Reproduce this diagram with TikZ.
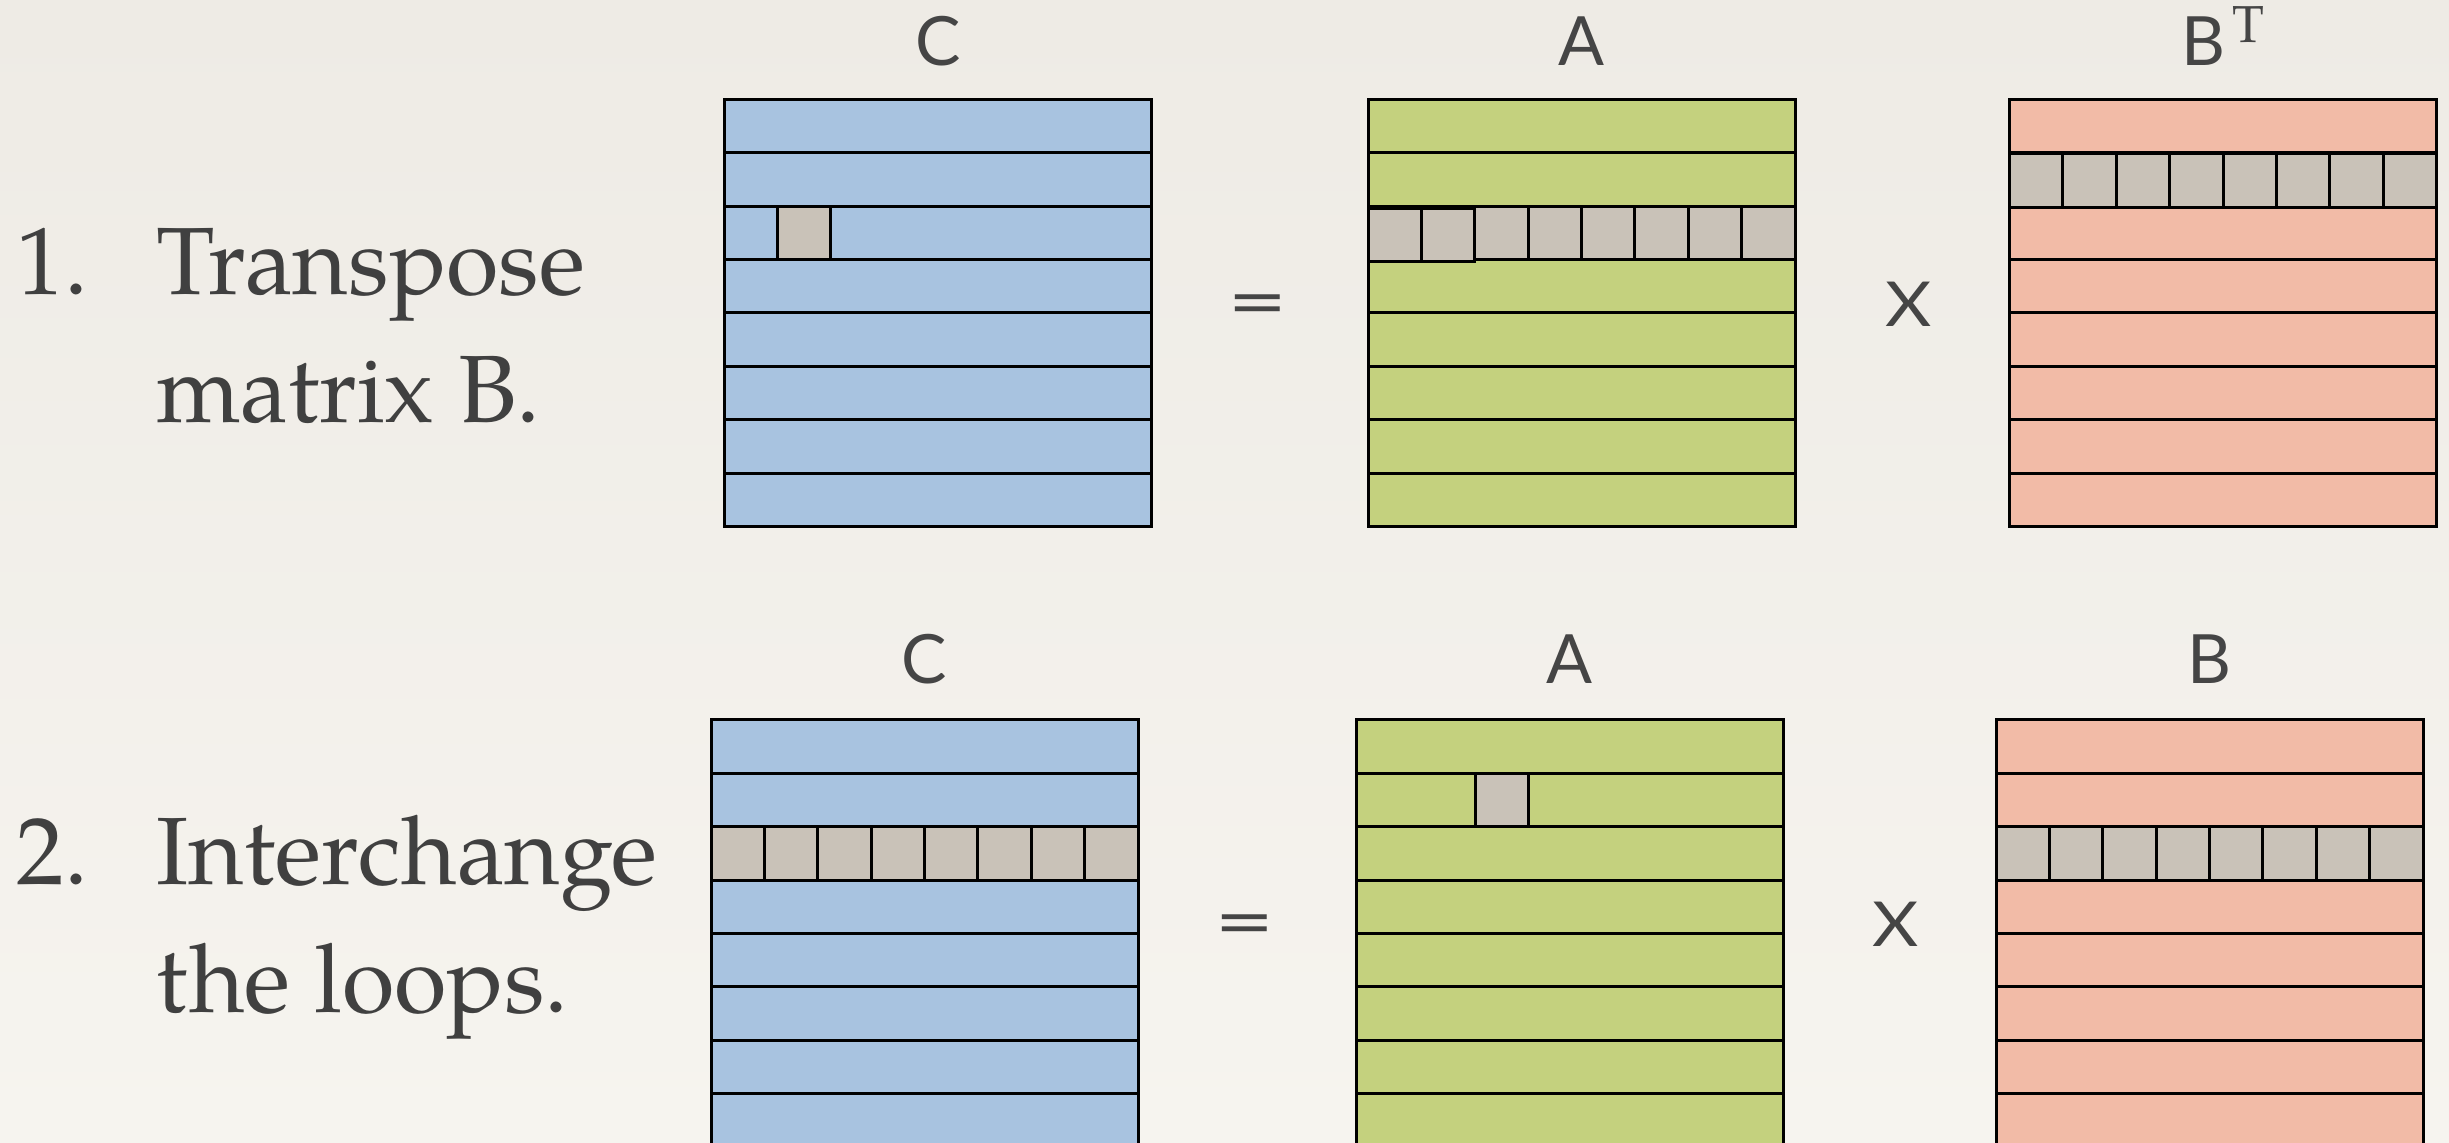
\documentclass[tikz,border=0pt]{standalone}
\usepackage{fontspec}
\newfontfamily\palfont{texgyrepagella}[Extension=.otf,UprightFont=*-regular]
\newfontfamily\lblfont{Lato}
\usetikzlibrary{calc}
\definecolor{bgtop}{HTML}{EEEBE5}
\definecolor{bgmid}{HTML}{E8E5E0}
\definecolor{bgbot}{HTML}{F6F4EF}
\definecolor{cblue}{HTML}{A8C3E0}
\definecolor{cgreen}{HTML}{C4D17E}
\definecolor{cpink}{HTML}{F2BBA7}
\definecolor{cellgray}{HTML}{C9C2B8}
\definecolor{txtgray}{HTML}{404040}
\definecolor{labelgray}{HTML}{454545}
\tikzset{
  matbox/.style={draw=black, line width=1.5pt, inner sep=0pt, outer sep=0pt,
    minimum width=213.5pt, minimum height=213.5pt, anchor=north west},
  rowline/.style={draw=black, line width=1.5pt},
  cellbox/.style={draw=black, line width=1.5pt, fill=cellgray},
  mlabel/.style={font=\lblfont\fontsize{34}{40}\selectfont, text=labelgray, inner sep=0pt, anchor=base},
  optxt/.style={font=\lblfont\fontsize{36}{40}\selectfont, text=labelgray, inner sep=0pt, xscale=1.45},
  multxt/.style={font=\lblfont\fontsize{31}{36}\selectfont, text=labelgray, inner sep=0pt, xscale=1.15},
  steptxt/.style={font=\palfont\fontsize{47.8}{56}\selectfont, text=txtgray, inner sep=0pt, anchor=base west},
}
\newcommand\matrixbox[4]{%
  \node[matbox, fill=#4] (#1) at (#2,#3) {};
  \foreach \k in {1,...,7}{%
    \draw[rowline] ($(#1.north west)!\k/8!(#1.south west)$) -- ($(#1.north east)!\k/8!(#1.south east)$);}%
}
\newcommand\cellat[4]{% name, col, row, vertical shift (px)
  \draw[cellbox] ($(#1.north west)+(#2*53.375,#3*53.375+#4)$) rectangle ++(53.375,53.375);}
\begin{document}
\begin{tikzpicture}[x=0.5pt,y=-0.5pt]
\useasboundingbox (0,0) rectangle (2449,1143);
\clip (0,0) rectangle (2449,1143);
\shade[top color=bgtop, middle color=bgmid, bottom color=bgbot] (0,0) rectangle (2449,1143);

% ---------- Row 1 ----------
\node[steptxt] (n1) at (16,295) {1.};
\node[steptxt] (t1a) at (156,295) {Transpose};
\node[steptxt] (t1b) at (156,423) {matrix B.};

\matrixbox{C1}{724}{99.5}{cblue}
\cellat{C1}{1}{2}{0}
\node[mlabel] (lC1) at (938,66) {C};

\node[optxt] (eq1) at (1258,311) {=};

\matrixbox{A1}{1368}{99.5}{cgreen}
\foreach \c in {2,...,7}{\cellat{A1}{\c}{2}{0}}
\cellat{A1}{0}{2}{2}
\cellat{A1}{1}{2}{2}
\node[mlabel] (lA1) at (1582,66) {A};

\node[multxt] (x1) at (1909,304) {X};

\matrixbox{B1}{2009.5}{99.5}{cpink}
\foreach \c in {0,...,7}{\cellat{B1}{\c}{1}{1}}
\node[mlabel] (lB1) at (2223,66) {B\hspace{3.5pt}\raisebox{11.5pt}{\palfont\fontsize{26}{30}\selectfont T}};

% ---------- Row 2 ----------
\node[steptxt] (n2) at (16,885) {2.};
\node[steptxt] (t2a) at (156,885) {Interchange};
\node[steptxt] (t2b) at (156,1013) {the loops.};

\matrixbox{C2}{711}{720}{cblue}
\foreach \c in {0,...,7}{\cellat{C2}{\c}{2}{0}}
\node[mlabel] (lC2) at (924,684) {C};

\node[optxt] (eq2) at (1244.5,931.5) {=};

\matrixbox{A2}{1356}{720}{cgreen}
\draw[cellbox] ($(A2.north west)+(119,53.375)$) rectangle ++(53.375,53.375);
\node[mlabel] (lA2) at (1569.5,684) {A};

\node[multxt] (x2) at (1896,924) {X};

\matrixbox{B2}{1996}{720}{cpink}
\foreach \c in {0,...,7}{\cellat{B2}{\c}{2}{0}}
\node[mlabel] (lB2) at (2209.5,684) {B};
\end{tikzpicture}
\end{document}
